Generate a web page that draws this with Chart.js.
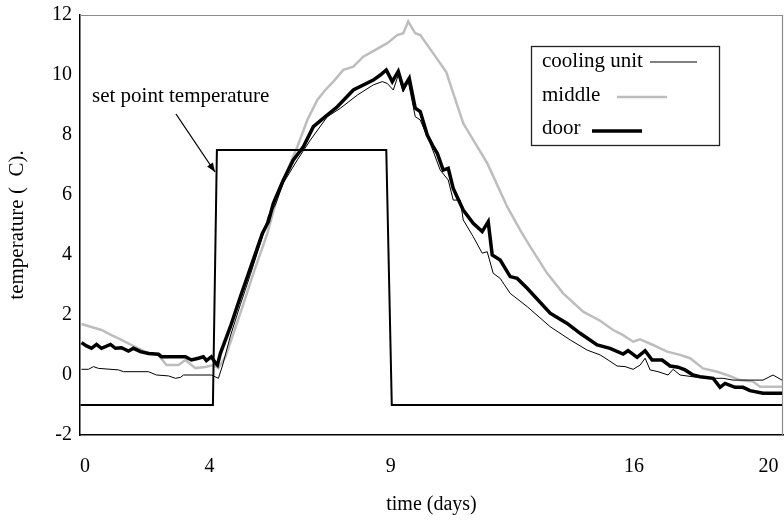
<!DOCTYPE html>
<html><head><meta charset="utf-8">
<script src="https://cdn.jsdelivr.net/npm/chart.js@4/dist/chart.umd.min.js"></script>
<style>html,body{margin:0;padding:0;background:#fff}#wrap{width:784px;height:520px;position:relative}</style>
</head><body><div id="wrap"><canvas id="c" width="784" height="520"></canvas></div>
<script>
// ---- data (x = sample index along the record, y = temperature) ----
const xTickPositions = [0.9, 25.8, 62.1, 110.8, 137.7];
const xTickLabels = ['0', '4', '9', '16', '20'];
const yTickValues = [-2, 0, 2, 4, 6, 8, 10, 12];

const coolingX = [0.2,1.6,2.6,3.6,7.6,8.6,13.6,15.2,17.6,19,20,20.6,26.2,27.6,28.4,30,32,34,36.4,37.6,39,40.6,43.4,46,49.4,52,55.4,58.6,60.4,61.4,62.6,63.6,64.6,65.6,67,68,69.4,70,72,73.6,74.6,76,76.6,78.6,80.4,81.4,82.6,84,86,89.4,94,98,101.4,104,105.6,107.4,109,110.6,112,113,114,115.6,117.6,118.6,120,122.6,126.6,128.6,130.6,136.6,138.6,140.4];
const coolingY = [0.19,0.19,0.28,0.22,0.17,0.11,0.11,0.0,-0.03,-0.11,-0.08,0.0,0.0,-0.11,0.3,1.3,2.35,3.35,4.6,5.3,5.67,6.4,7.17,7.83,8.61,8.89,9.33,9.67,9.78,9.72,9.5,10.0,9.44,9.78,8.61,8.5,7.94,7.72,6.83,6.5,5.83,5.83,5.17,4.61,4.06,4.11,3.39,3.22,2.72,2.28,1.61,1.17,0.83,0.67,0.5,0.3,0.28,0.19,0.33,0.56,0.17,0.11,0.0,0.19,0.0,-0.06,-0.11,-0.11,-0.17,-0.17,0.0,-0.17];

const middleX = [0.2,2.2,4.2,6.2,8.2,10.2,13,15.6,17.2,19.6,21,23,25,26.6,27.6,29,32,34.6,37.4,39.4,41.4,43.4,45.4,47.4,49,50.6,52.6,54.6,56.6,58.4,61.4,63.4,64.6,65.6,67,68,70.6,73.2,76.6,81.4,85.4,88,90,93.4,96.6,100.6,104,106.6,108.6,110.6,112,114.6,117.4,120,122,124.6,127.4,129.4,132,134.6,136,140.4];
const middleY = [1.7,1.6,1.5,1.33,1.17,1.0,0.77,0.67,0.33,0.33,0.5,0.23,0.27,0.33,0.23,0.6,2.06,3.39,4.72,5.94,6.83,7.61,8.5,9.17,9.5,9.78,10.17,10.28,10.61,10.78,11.06,11.33,11.39,11.78,11.39,11.33,10.72,10.1,8.39,7.06,5.61,4.83,4.28,3.39,2.72,2.11,1.81,1.5,1.33,1.11,1.19,1.0,0.78,0.67,0.56,0.22,0.11,0.0,-0.17,-0.22,-0.39,-0.39];

const doorX = [0.2,1.2,2.2,3.2,4.2,6,7,8.2,9.6,10.6,12,13.6,15.6,16.2,21,22.2,23.6,24.6,25.2,26.2,27,27.4,28,30,32,34,36.4,37.6,38.6,40.6,42.6,44.6,46.6,49,51.4,54.6,58.6,60,61.2,62.4,63.6,64.6,65.8,67,68,69.4,70.6,71.4,72.6,73.6,74.6,76.6,78.6,80.4,81.6,82.4,84,86,87.4,89.4,94,97.4,100,103.4,106,108.6,109.6,111.4,113,114.4,116.4,118,119.6,121,122.6,124,126.6,128,129,131,132.6,134,136.6,140.4];
const doorY = [1.08,0.97,0.89,1.02,0.89,1.02,0.89,0.91,0.8,0.89,0.78,0.72,0.69,0.61,0.61,0.5,0.56,0.61,0.48,0.61,0.4,0.33,0.72,1.61,2.61,3.56,4.72,5.11,5.72,6.5,7.17,7.61,8.28,8.61,8.94,9.5,9.83,10.0,10.17,9.78,10.12,9.56,9.89,8.89,8.78,8.0,7.61,7.39,6.83,6.89,6.22,5.5,5.06,4.78,5.11,4.0,3.83,3.28,3.22,2.89,2.06,1.72,1.39,1.0,0.89,0.7,0.81,0.59,0.81,0.5,0.5,0.3,0.26,0.17,0.0,-0.06,-0.11,-0.41,-0.28,-0.41,-0.41,-0.52,-0.61,-0.61];

const setPointX = [0, 26.5, 27.3, 61.2, 62.3, 140.4];
const setPointY = [-1, -1, 7.5, 7.5, -1, -1];

const legendOrder = ['cooling unit', 'middle', 'door'];
const annotationText = 'set point temperature';

const pts = (xs, ys) => xs.map((x, i) => ({x, y: ys[i]}));
const FONT = '"Liberation Serif", "Times New Roman", serif';

const framePlugin = {
  id: 'frame',
  beforeDatasetsDraw(chart) {
    const {ctx, chartArea: a} = chart;
    ctx.save();
    ctx.strokeStyle = '#8c8c8c';
    ctx.lineWidth = 1.2;
    ctx.beginPath();
    ctx.moveTo(a.left, a.top + 0.5);
    ctx.lineTo(a.right - 0.5, a.top + 0.5);
    ctx.lineTo(a.right - 0.5, a.bottom);
    ctx.stroke();
    ctx.restore();
  }
};

const legendPlugin = {
  id: 'customLegend',
  afterDraw(chart) {
    const {ctx} = chart;
    const box = {x: 531, y: 46, w: 188, h: 99};
    const rows = [
      {tx: 542, ty: 67, lx0: 650, lx1: 697, ly: 62},
      {tx: 542, ty: 101, lx0: 617, lx1: 667, ly: 97},
      {tx: 542, ty: 134, lx0: 592, lx1: 642, ly: 131}
    ];
    ctx.save();
    ctx.fillStyle = '#fff';
    ctx.fillRect(box.x, box.y, box.w, box.h);
    ctx.strokeStyle = '#222';
    ctx.lineWidth = 1.3;
    ctx.strokeRect(box.x + 0.5, box.y + 0.5, box.w, box.h);
    ctx.font = '21px ' + FONT;
    ctx.textBaseline = 'alphabetic';
    ctx.textAlign = 'left';
    legendOrder.forEach((name, i) => {
      const ds = chart.data.datasets.find(d => d.label === name);
      const r = rows[i];
      ctx.fillStyle = '#000';
      ctx.fillText(name, r.tx, r.ty);
      ctx.strokeStyle = ds.borderColor;
      ctx.lineWidth = ds.borderWidth;
      ctx.beginPath();
      ctx.moveTo(r.lx0, r.ly);
      ctx.lineTo(r.lx1, r.ly);
      ctx.stroke();
    });
    ctx.restore();
  }
};

const annotationPlugin = {
  id: 'annot',
  afterDraw(chart) {
    const {ctx} = chart;
    ctx.save();
    ctx.font = '21px ' + FONT;
    ctx.fillStyle = '#000';
    ctx.textAlign = 'left';
    ctx.textBaseline = 'alphabetic';
    ctx.fillText(annotationText, 92, 102);
    const x0 = 176, y0 = 114, x1 = 215, y1 = 172;
    ctx.strokeStyle = '#000';
    ctx.lineWidth = 1.3;
    ctx.beginPath();
    ctx.moveTo(x0, y0);
    ctx.lineTo(x1, y1);
    ctx.stroke();
    const ang = Math.atan2(y1 - y0, x1 - x0);
    const L = 9, W = 3.5;
    ctx.beginPath();
    ctx.moveTo(x1, y1);
    ctx.lineTo(x1 - L * Math.cos(ang) + W * Math.sin(ang), y1 - L * Math.sin(ang) - W * Math.cos(ang));
    ctx.lineTo(x1 - L * Math.cos(ang) - W * Math.sin(ang), y1 - L * Math.sin(ang) + W * Math.cos(ang));
    ctx.closePath();
    ctx.fill();
    ctx.restore();
  }
};

new Chart(document.getElementById('c'), {
  type: 'line',
  data: {
    datasets: [
      {label: 'set point temperature', data: pts(setPointX, setPointY), borderColor: '#000', borderWidth: 2, order: 0},
      {label: 'cooling unit', data: pts(coolingX, coolingY), borderColor: '#000', borderWidth: 1, order: 1},
      {label: 'door', data: pts(doorX, doorY), borderColor: '#000', borderWidth: 3.5, order: 2},
      {label: 'middle', data: pts(middleX, middleY), borderColor: '#bdbdbd', borderWidth: 2.5, order: 3}
    ]
  },
  options: {
    responsive: false,
    animation: false,
    events: [],
    elements: {point: {radius: 0}, line: {tension: 0, borderJoinStyle: 'miter', borderCapStyle: 'butt'}},
    layout: {padding: {top: 15, right: 1, left: 0, bottom: 0}},
    plugins: {legend: {display: false}, tooltip: {enabled: false}, title: {display: false}},
    scales: {
      x: {
        type: 'linear', min: -0.1, max: 140.6,
        afterBuildTicks: s => { s.ticks = xTickPositions.map(v => ({value: v})); },
        afterFit: s => { s.height = 85; s.paddingLeft = 0; s.paddingRight = 0; },
        ticks: {callback: (v, i) => xTickLabels[i], font: {family: FONT, size: 20}, color: '#000', padding: 20, maxRotation: 0, autoSkip: false},
        grid: {display: false, drawTicks: false},
        border: {display: true, color: '#000', width: 1.5},
        title: {display: true, text: 'time (days)', font: {family: FONT, size: 20}, color: '#000', padding: {top: 0, bottom: 3}}
      },
      y: {
        type: 'linear', min: -2, max: 12,
        afterBuildTicks: s => { s.ticks = yTickValues.map(v => ({value: v})); },
        afterFit: s => { s.width = 80; s.paddingTop = 0; s.paddingBottom = 0; },
        ticks: {callback: v => String(v), font: {family: FONT, size: 20}, color: '#000', padding: 8},
        grid: {display: false, drawTicks: false},
        border: {display: true, color: '#000', width: 1.5},
        title: {display: true, text: 'temperature (  C).', font: {family: FONT, size: 21}, color: '#000', padding: {top: 5, bottom: 0}}
      }
    }
  },
  plugins: [framePlugin, legendPlugin, annotationPlugin]
});
</script>
</body></html>
